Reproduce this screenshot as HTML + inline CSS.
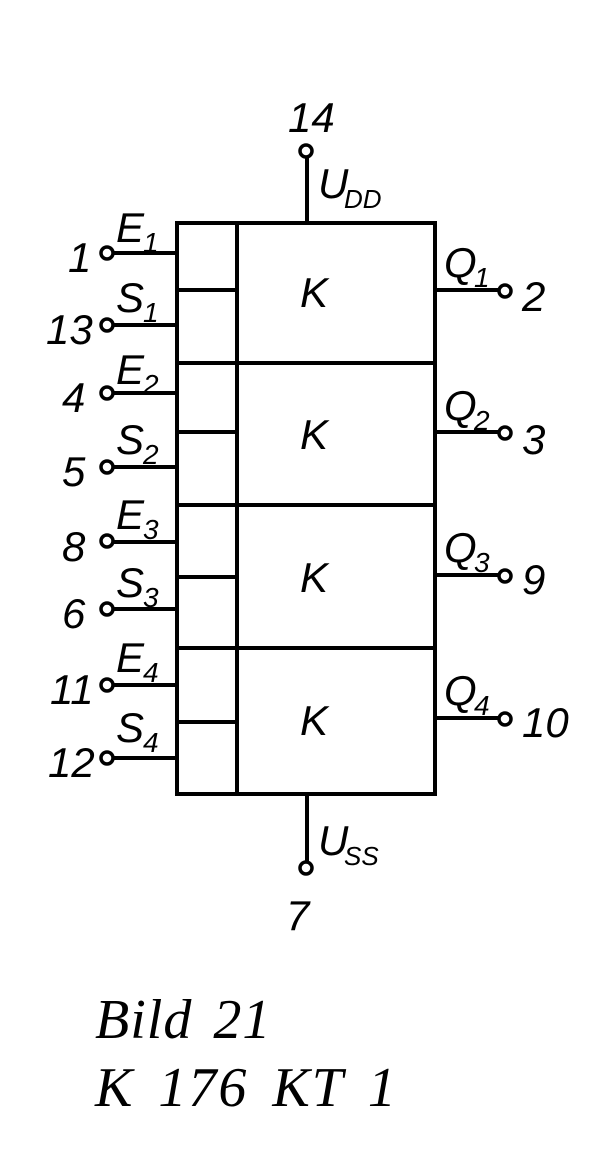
<!DOCTYPE html>
<html><head><meta charset="utf-8"><style>
html,body{margin:0;padding:0;background:#fff}
svg text{font-family:"Liberation Sans",sans-serif;font-style:italic;fill:#000}
</style></head><body>
<svg width="613" height="1159" viewBox="0 0 613 1159" xmlns="http://www.w3.org/2000/svg">
<g stroke="#000" stroke-width="4" fill="none">
<rect x="177" y="223" width="258" height="571"/>
<line x1="237" y1="223" x2="237" y2="794"/>
<line x1="177" y1="363" x2="435" y2="363"/>
<line x1="177" y1="505" x2="435" y2="505"/>
<line x1="177" y1="648" x2="435" y2="648"/>
<line x1="177" y1="290" x2="237" y2="290"/>
<line x1="177" y1="432" x2="237" y2="432"/>
<line x1="177" y1="577" x2="237" y2="577"/>
<line x1="177" y1="722" x2="237" y2="722"/>
<g>
<line x1="113" y1="253" x2="177" y2="253"/><circle cx="107" cy="253" r="6" stroke-width="3.5"/>
<line x1="113" y1="325" x2="177" y2="325"/><circle cx="107" cy="325" r="6" stroke-width="3.5"/>
<line x1="113" y1="393" x2="177" y2="393"/><circle cx="107" cy="393" r="6" stroke-width="3.5"/>
<line x1="113" y1="467" x2="177" y2="467"/><circle cx="107" cy="467" r="6" stroke-width="3.5"/>
<line x1="113" y1="542" x2="177" y2="542"/><circle cx="107" cy="541" r="6" stroke-width="3.5"/>
<line x1="113" y1="609" x2="177" y2="609"/><circle cx="107" cy="609" r="6" stroke-width="3.5"/>
<line x1="113" y1="685" x2="177" y2="685"/><circle cx="107" cy="685" r="6" stroke-width="3.5"/>
<line x1="113" y1="758" x2="177" y2="758"/><circle cx="107" cy="758" r="6" stroke-width="3.5"/>
<line x1="435" y1="290" x2="499" y2="290"/><circle cx="505" cy="291" r="6" stroke-width="3.5"/>
<line x1="435" y1="432" x2="499" y2="432"/><circle cx="505" cy="433" r="6" stroke-width="3.5"/>
<line x1="435" y1="575" x2="499" y2="575"/><circle cx="505" cy="576" r="6" stroke-width="3.5"/>
<line x1="435" y1="718" x2="499" y2="718"/><circle cx="505" cy="719" r="6" stroke-width="3.5"/>
<line x1="307" y1="157" x2="307" y2="223"/><circle cx="306" cy="151" r="6" stroke-width="3.5"/>
<line x1="307" y1="794" x2="307" y2="862"/><circle cx="306" cy="868" r="6" stroke-width="3.5"/>
</g>
</g>
<g font-size="42">
<text x="300" y="307">K</text>
<text x="300" y="449">K</text>
<text x="300" y="592">K</text>
<text x="300" y="735">K</text>
<text x="288" y="132">14</text>
<text x="286" y="930">7</text>
<text x="68" y="272">1</text>
<text x="46" y="344">13</text>
<text x="62" y="412">4</text>
<text x="62" y="486">5</text>
<text x="62" y="561">8</text>
<text x="62" y="628">6</text>
<text x="50" y="704">11</text>
<text x="48" y="777">12</text>
<text x="522" y="311">2</text>
<text x="522" y="454">3</text>
<text x="522" y="594">9</text>
<text x="522" y="737">10</text>
<text x="116" y="242">E</text><text x="143" y="252" font-size="28">1</text>
<text x="116" y="312">S</text><text x="143" y="322" font-size="28">1</text>
<text x="116" y="384">E</text><text x="143" y="394" font-size="28">2</text>
<text x="116" y="454">S</text><text x="143" y="464" font-size="28">2</text>
<text x="116" y="529">E</text><text x="143" y="539" font-size="28">3</text>
<text x="116" y="597">S</text><text x="143" y="607" font-size="28">3</text>
<text x="116" y="672">E</text><text x="143" y="682" font-size="28">4</text>
<text x="116" y="742">S</text><text x="143" y="752" font-size="28">4</text>
<text x="444" y="277">Q</text><text x="474" y="287" font-size="28">1</text>
<text x="444" y="420">Q</text><text x="474" y="430" font-size="28">2</text>
<text x="444" y="562">Q</text><text x="474" y="572" font-size="28">3</text>
<text x="444" y="705">Q</text><text x="474" y="715" font-size="28">4</text>
<text x="318" y="198">U</text><text x="344" y="208" font-size="26">DD</text>
<text x="318" y="855">U</text><text x="344" y="865" font-size="26">SS</text>
</g>
<g font-size="56">
<text x="95" y="1038" style="font-family:'Liberation Serif',serif;letter-spacing:1px;word-spacing:6px">Bild 21</text>
<text x="95" y="1106" style="font-family:'Liberation Serif',serif;letter-spacing:2px;word-spacing:8px">K 176 KT 1</text>
</g>
</svg>
</body></html>
